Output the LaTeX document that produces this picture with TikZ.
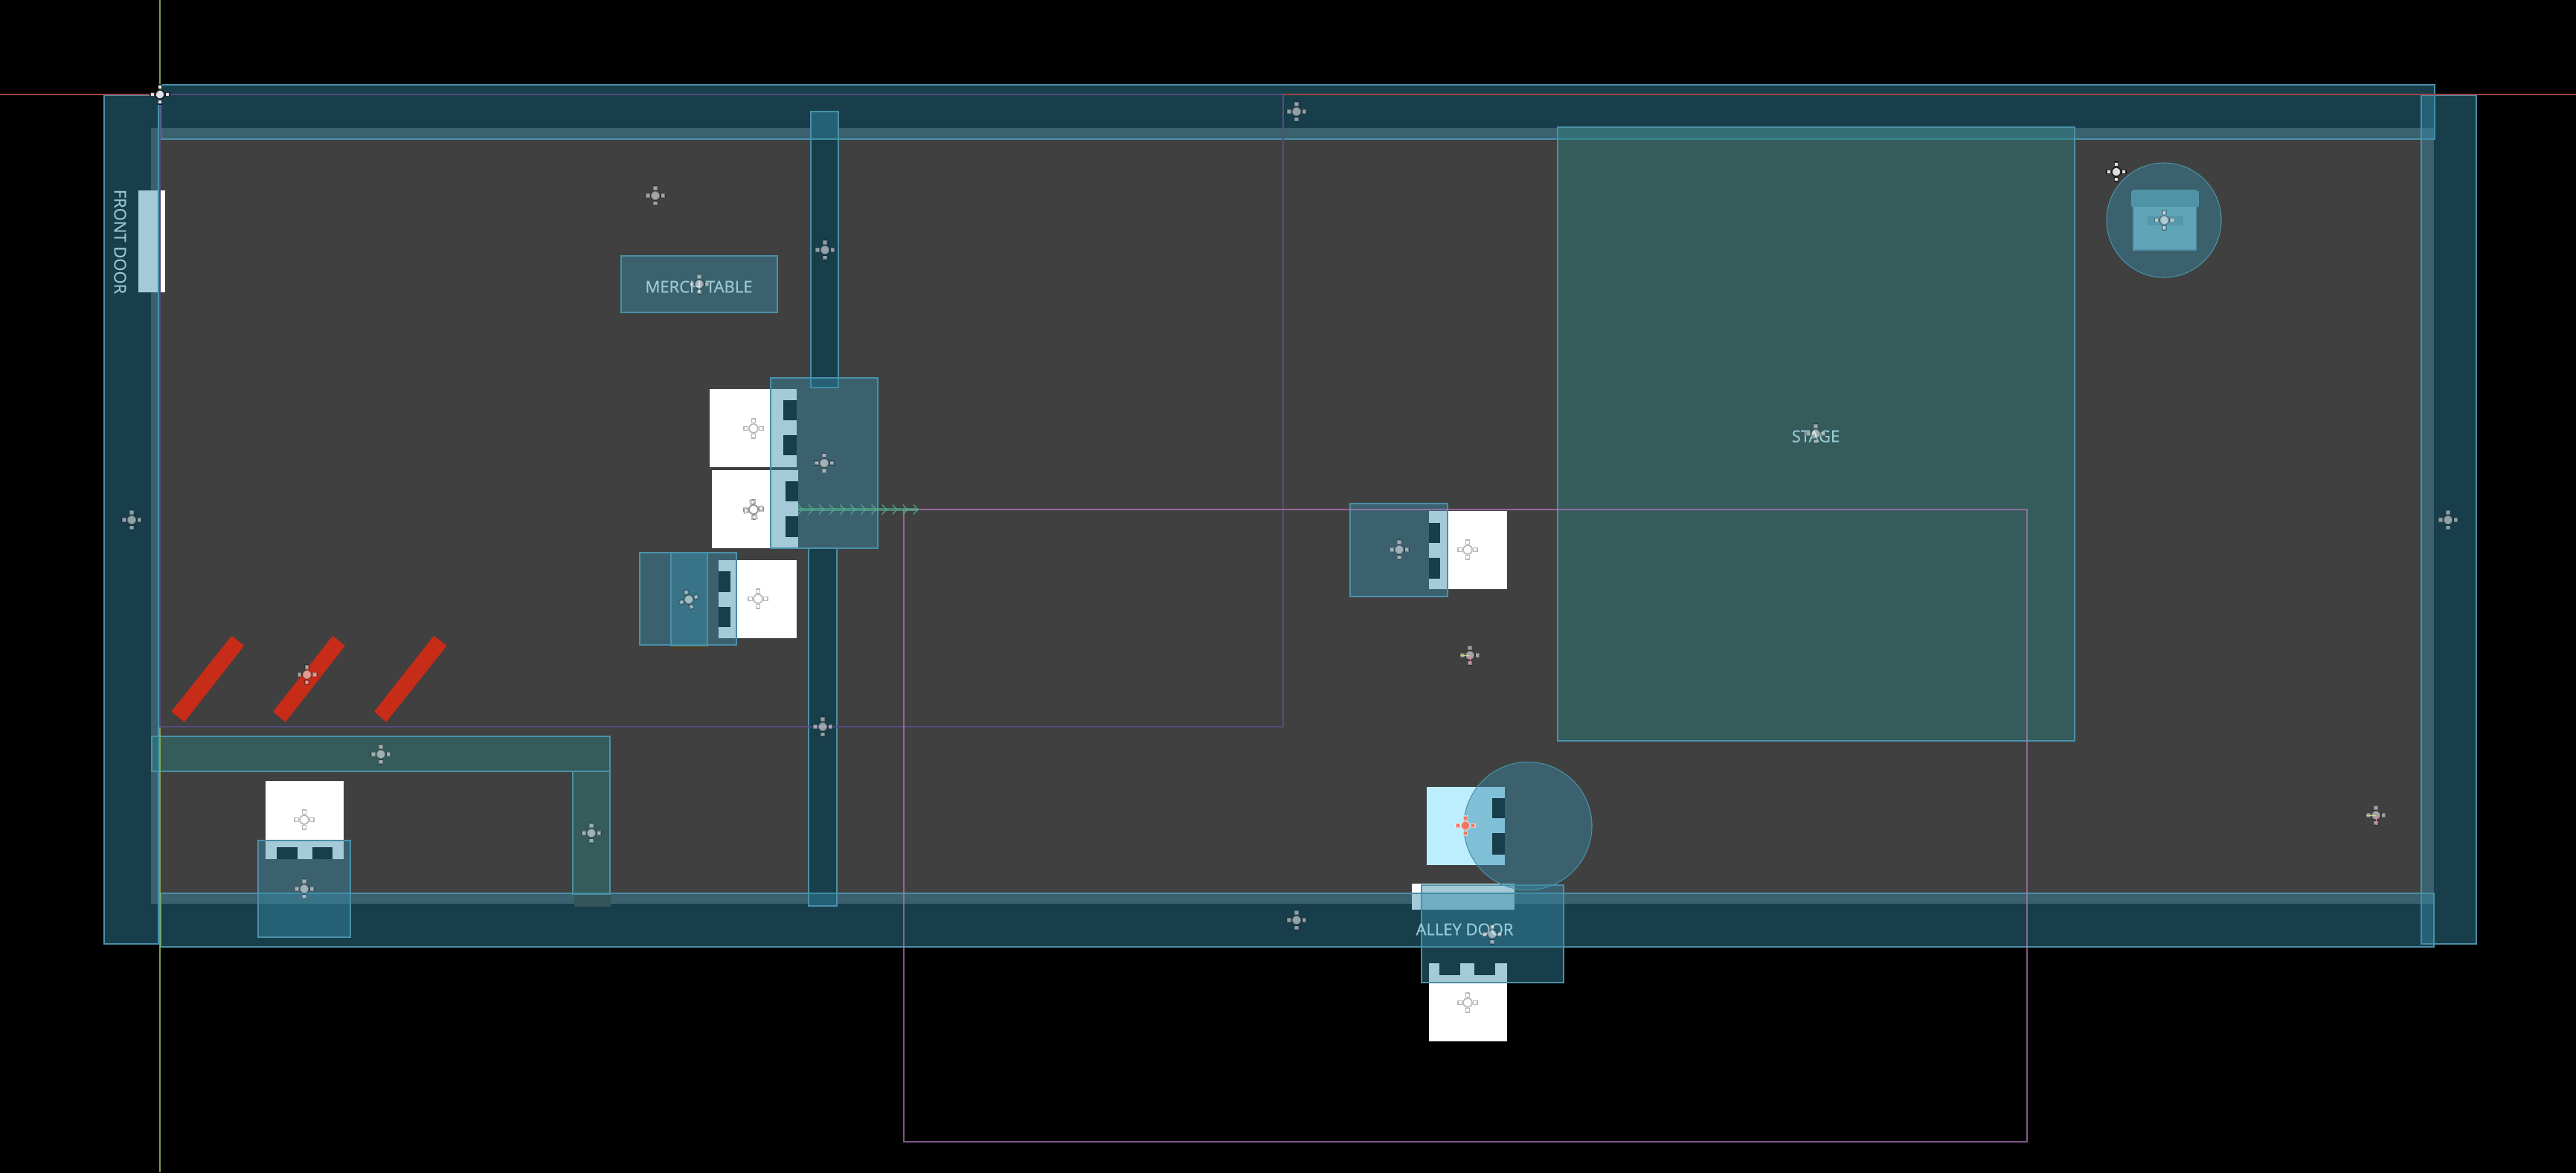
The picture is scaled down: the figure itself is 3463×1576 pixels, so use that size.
\documentclass[tikz,border=0pt]{standalone}
\usepackage{fontspec}
\usetikzlibrary{calc}
\setmainfont{Open Sans}
\newfontfamily\labelfont[FakeBold=0.5]{Open Sans}
\definecolor{floorgray}{HTML}{404040}
\definecolor{tealfill}{HTML}{378AA7}
\definecolor{tealedge}{HTML}{4A90A8}
\definecolor{greenfill}{HTML}{287E7E}
\definecolor{labelblue}{HTML}{A9DCE8}
\definecolor{barred}{HTML}{C62C18}
\definecolor{purpleA}{HTML}{544C80}
\definecolor{purpleB}{HTML}{B478BE}
\definecolor{axisred}{HTML}{A04444}
\definecolor{axisgreen}{HTML}{94B45C}
\definecolor{gizmogreen}{HTML}{C4DC7C}
\definecolor{gizmored}{HTML}{D88A9A}
\definecolor{chaingreen}{HTML}{55AE8E}
\definecolor{tint}{HTML}{BDEEFE}
\definecolor{shadowbrown}{HTML}{4F3A22}
\definecolor{benchfoot}{HTML}{335557}
\definecolor{chestbody}{HTML}{60A4B8}
\definecolor{chestlid}{HTML}{5092A6}
\definecolor{chestband}{HTML}{5797AB}
\definecolor{selectred}{HTML}{EE7766}
\tikzset{
  overlay box/.style={fill=tealfill,fill opacity=.45,draw=tealedge,line width=.55pt},
  green box/.style={fill=greenfill,fill opacity=.45,draw=tealedge,line width=.55pt},
  wall box/.style={overlay box},
  notch/.style={fill=black},
  solidwhite/.style={fill=white},
  label text/.style={text=labelblue,text opacity=.85,font=\labelfont\fontsize{11}{13}\selectfont,inner sep=0pt},
  xh line/.style={draw=black,draw opacity=.28,line width=.85pt},
  xh fill/.style={fill=white,fill opacity=.52},
  xhb line/.style={draw=black,draw opacity=.75,line width=.85pt},
  xhb fill/.style={fill=white,fill opacity=.82},
}
% crosshair: #1 style prefix (xh / xhb), #2 x, #3 y, #4 rotation
\newcommand{\markcross}[4]{%
  \begin{scope}[shift={(#2,#3)},rotate=#4]
    \foreach \a in {0,90,180,270}{
      \path[rotate=\a,#1 fill,#1 line] (7.5,-2.6) rectangle (13,2.6);
    }
    \path[#1 fill,#1 line] (0,0) circle[radius=6];
  \end{scope}}
\begin{document}
\begin{tikzpicture}[x=0.5pt,y=-0.5pt]
\useasboundingbox (0,0) rectangle (3463,1576);
\fill[black] (-6,-6) rectangle (3469,1582);

% floor
\fill[floorgray] (203,172) rectangle (3272,1215);

% dark undersides of the pillars
\fill[black] (1089,150) rectangle (1126,521);
\fill[black] (1086,736) rectangle (1124,1219);

% white objects with notches
\fill[solidwhite] (954,523) rectangle (1071,628);
\fill[notch] (1053,538) rectangle (1071,565);
\fill[notch] (1053,585) rectangle (1071,612);

\fill[solidwhite] (957,632) rectangle (1073,737);
\fill[notch] (1056,647) rectangle (1073,674);
\fill[notch] (1056,694) rectangle (1073,722);

\fill[solidwhite] (966,753) rectangle (1071,858);
\fill[notch] (966,768) rectangle (982,796);
\fill[notch] (966,816) rectangle (982,843);

\fill[solidwhite] (1921,687) rectangle (2026,792);
\fill[notch] (1921,703) rectangle (1936,730);
\fill[notch] (1921,750) rectangle (1936,778);

\fill[tint] (1918,1058) rectangle (2023,1163);
\fill[notch] (2006,1073) rectangle (2023,1100);
\fill[notch] (2006,1120) rectangle (2023,1149);

\fill[solidwhite] (1921,1295) rectangle (2026,1400);
\fill[notch] (1935,1295) rectangle (1963,1311);
\fill[notch] (1982,1295) rectangle (2010,1311);

\fill[solidwhite] (357,1050) rectangle (462,1155);
\fill[notch] (372,1139) rectangle (400,1155);
\fill[notch] (420,1139) rectangle (447,1155);

\fill[solidwhite] (186,256) rectangle (222,393);
\fill[solidwhite] (1898,1188) rectangle (2036,1223);

% red bars
\fill[barred] (311.4,854.7) -- (328.2,868) -- (247.8,970.7) -- (230.2,956.7) -- cycle;
\fill[barred] (447.3,854.7) -- (464,868) -- (383.7,970.7) -- (367,956.7) -- cycle;
\fill[barred] (583.3,854.7) -- (600.8,868) -- (519.2,970.7) -- (502.9,956.7) -- cycle;

% brown shadow under the crate box
\fill[shadowbrown] (903,868) rectangle (952,872);

% walls
\path[wall box] (140,128) rectangle (213,1269);
\path[wall box] (216,114) rectangle (3273,187);
\path[wall box] (3255,128) rectangle (3329,1269);
\path[wall box] (216,1201) rectangle (3272,1273);

% stage and benches
\path[green box] (2094,171) rectangle (2789,996);
\path[green box] (204,990) rectangle (820,1037);
\path[green box] (770,1037) rectangle (820,1202);
\fill[benchfoot] (772,1203) rectangle (821,1219);

% table, pillars, door boxes
\path[overlay box] (835,344) rectangle (1045,420);
\path[overlay box] (1090,150) rectangle (1127,521);
\path[overlay box] (1087,737) rectangle (1125,1218);
\path[overlay box] (1036,508) rectangle (1180,737);
\path[overlay box] (860,743) rectangle (990,867);
\path[overlay box] (902,743) rectangle (951,868);
\path[overlay box] (1815,677) rectangle (1946,802);
\path[overlay box] (347,1130) rectangle (471,1260);
\path[overlay box] (1911,1190) rectangle (2102,1321);
\path[overlay box] (2054,1110.5) circle[radius=86];

% chest
\path[overlay box] (2909,296) circle[radius=77];
\fill[chestlid] (2867,255) rectangle (2953,337);
\fill[chestbody] (2869,278) rectangle (2952,335);
\fill[chestlid] (2865,257) rectangle (2956,278);
\fill[chestband] (2887,290) rectangle (2935,303);

% guide lines
\draw[axisred,line width=.55pt] (0,127) -- (3463,127);
\draw[axisgreen,draw opacity=.85,line width=.55pt] (215,0) -- (215,1576);
\draw[purpleA,line width=.55pt] (215,127) rectangle (1725,977);
\draw[purpleB,draw opacity=.72,line width=.55pt] (1215,685) rectangle (2725,1535);

% arrow chain
\coordinate (chainstart) at (1073,685);
\coordinate (chainend) at (1234,685);
\draw[chaingreen,draw opacity=.65,line width=2pt] (chainstart) -- (chainend);
\foreach \n in {0,...,11}{
  \draw[chaingreen,line width=.75pt,draw opacity=.75]
    ($(chainend)+({-\n*14.1-6},-6.5)$) -- ($(chainend)+({-\n*14.1},0)$) -- ($(chainend)+({-\n*14.1-6},6.5)$);
}

% labels
\node[label text,rotate=-90] (frontdoor) at (161.5,325) {FRONT DOOR};
\node[label text] (merch) at (939.5,385.5) {MERCH TABLE};
\node[label text] (stage) at (2441,586.5) {STAGE};
\node[label text] (alley) at (1969,1249.5) {ALLEY DOOR};

% crosshairs
\markcross{xhb}{215}{127}{0}
\markcross{xhb}{2845}{231}{0}
\markcross{xh}{2909.5}{296}{0}
\markcross{xh}{1743}{150}{0}
\markcross{xh}{177}{699}{0}
\markcross{xh}{3291}{699}{0}
\markcross{xh}{1743}{1237}{0}
\markcross{xh}{881}{263}{0}
\markcross{xh}{940}{382}{0}
\markcross{xh}{1109}{336}{0}
\markcross{xh}{1108}{622.5}{0}
\markcross{xh}{1106}{977}{0}
\markcross{xh}{1013}{576}{0}
\markcross{xh}{1013}{685}{0}
\markcross{xh}{1013}{685}{10}
\markcross{xh}{1019}{805}{0}
\markcross{xh}{926}{806}{20}
\markcross{xh}{1973}{739}{0}
\markcross{xh}{1881}{739}{0}
\markcross{xh}{1976}{881}{0}
\markcross{xh}{3194}{1096}{0}
\markcross{xh}{412.7}{907}{0}
\markcross{xh}{512}{1014}{0}
\markcross{xh}{795}{1120}{0}
\markcross{xh}{409}{1102}{0}
\markcross{xh}{409}{1195}{0}
\markcross{xh}{2441}{583}{0}
\markcross{xh}{2006}{1256}{0}
\markcross{xh}{1973}{1348}{0}

% small gizmo axes
\draw[gizmogreen,line width=.4pt] (1976,881) -- (1963,881);
\draw[gizmored,line width=.4pt] (1976,881) -- (1976,894);
\draw[gizmogreen,line width=.4pt] (3194,1096) -- (3181,1096);
\draw[gizmored,line width=.4pt] (3194,1096) -- (3194,1109);

% selected crosshair
\begin{scope}[shift={(1970,1110)}]
  \foreach \a in {0,90,180,270}{
    \path[rotate=\a,fill=selectred,draw=white,draw opacity=.5,line width=.8pt] (7.5,-2.6) rectangle (13,2.6);
  }
  \path[fill=selectred,draw=white,draw opacity=.5,line width=.8pt] (0,0) circle[radius=6];
\end{scope}
\end{tikzpicture}
\end{document}
